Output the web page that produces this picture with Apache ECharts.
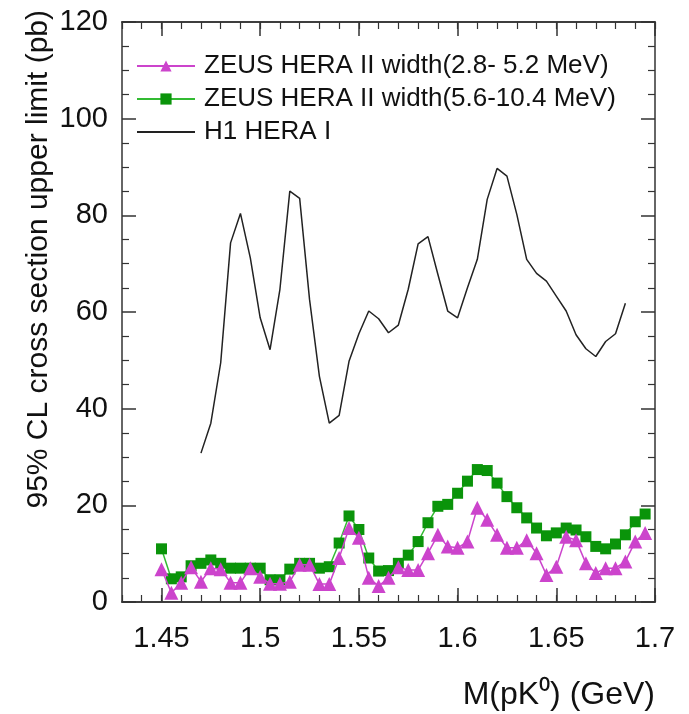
<!DOCTYPE html>
<html>
<head>
<meta charset="utf-8">
<script src="https://cdn.jsdelivr.net/npm/echarts@6/dist/echarts.min.js"></script>
<style>html,body{margin:0;padding:0;background:#fff}#chart{width:689px;height:714px}</style>
</head>
<body>
<div id="chart"></div>
<script>
var zeusMass = [1.45,1.455,1.46,1.465,1.47,1.475,1.48,1.485,1.49,1.495,1.5,1.505,1.51,1.515,1.52,1.525,1.53,1.535,1.54,1.545,1.55,1.555,1.56,1.565,1.57,1.575,1.58,1.585,1.59,1.595,1.6,1.605,1.61,1.615,1.62,1.625,1.63,1.635,1.64,1.645,1.65,1.655,1.66,1.665,1.67,1.675,1.68,1.685,1.69,1.695];
var narrowLimit = [6.8,1.9,4,7.2,4.2,7,6.8,4,4,7,5.2,3.8,3.8,4.2,7.7,7.7,3.7,3.7,9.1,15.3,13.3,5,3.3,5,7.2,6.6,6.6,10.1,13.9,11.5,11.2,12.5,19.5,17,13.9,11.2,11.2,12.8,10.1,5.6,7.3,13.5,12.8,8,6,7,7,8.4,12.5,14.3];
var wideLimit = [11,4.8,5.2,7.5,8,8.7,8,7,7,7,7,4.6,4.6,6.8,8,8,7,7.3,12.2,17.8,15,9.1,6.4,6.5,8,9.7,12.5,16.4,19.8,20.2,22.5,25,27.4,27.2,24.6,21.8,19.5,17.4,15.3,13.7,14.3,15.3,14.9,13.5,11.5,11,12,13.9,16.6,18.2];
var h1Mass = [1.47,1.475,1.48,1.485,1.49,1.495,1.5,1.505,1.51,1.515,1.52,1.525,1.53,1.535,1.54,1.545,1.55,1.555,1.56,1.565,1.57,1.575,1.58,1.585,1.59,1.595,1.6,1.605,1.61,1.615,1.62,1.625,1.63,1.635,1.64,1.645,1.65,1.655,1.66,1.665,1.67,1.675,1.68,1.685];
var h1Limit = [30.8,37,49.5,74.3,80.4,71.2,58.8,52.2,64.7,85,83.5,62.6,46.7,37,38.6,49.8,55.5,60.2,58.6,55.7,57.3,64.7,74.1,75.6,67.8,60.2,58.8,65,70.9,83.3,89.7,88.1,80.2,70.9,68,66.4,63.3,60.2,55.3,52.4,50.8,53.9,55.5,61.8];
var xTickLabels = [1.45,1.5,1.55,1.6,1.65,1.7];
var names = ['ZEUS HERA II width(2.8- 5.2 MeV)', 'ZEUS HERA II width(5.6-10.4 MeV)', 'H1 HERA I'];

function pairs(xs, ys) {
    return xs.map(function (x, i) { return [x, ys[i]]; });
}

var font = 'Liberation Sans, Arial, sans-serif';
var axisLine = { show: true, lineStyle: { color: '#333', width: 1.5 } };
function xAx(pos, major, labels) {
    var a = {
        type: 'value', position: pos, min: 1.43, max: 1.7,
        axisLine: axisLine, splitLine: { show: false },
        axisLabel: { show: false }
    };
    if (major) {
        a.axisTick = { inside: true, length: 14, customValues: xTickLabels, lineStyle: { color: '#333', width: 1.5 } };
        if (labels) {
            a.axisLabel = { show: true, customValues: xTickLabels, fontSize: 29, color: '#111', fontFamily: font, margin: 22 };
            a.name = 'M(pK\u2070) (GeV)';
            a.nameLocation = 'end';
            a.nameGap = 0;
            a.nameTextStyle = { fontSize: 32, color: '#111', fontFamily: font, align: 'right', verticalAlign: 'top', padding: [77, 0, 0, 0] };
        }
    } else {
        a.interval = 0.01;
        a.axisTick = { inside: true, length: 7, lineStyle: { color: '#333', width: 1.2 } };
    }
    return a;
}
function yAx(pos, labels) {
    return {
        type: 'value', position: pos, min: 0, max: 120, interval: 20,
        axisLine: axisLine, splitLine: { show: false },
        axisTick: { inside: true, length: 14, lineStyle: { color: '#333', width: 1.5 } },
        minorTick: { show: true, splitNumber: 4, length: 7, lineStyle: { color: '#333', width: 1.2 } },
        axisLabel: { show: labels, fontSize: 29, color: '#111', fontFamily: font, margin: 14 },
        name: labels ? '95% CL cross section upper limit (pb)' : '',
        nameLocation: 'end', nameRotate: 90, nameGap: 12,
        nameTextStyle: { fontSize: 30, color: '#111', fontFamily: font, align: 'right', verticalAlign: 'bottom', padding: [0, 0, 68, 0] }
    };
}

var myChart = echarts.init(document.getElementById('chart'));
var option = {
    animation: false,
    grid: { left: 122, right: 34, top: 22, bottom: 112 },
    legend: {
        left: 131, top: 48, orient: 'vertical', itemGap: 7, itemWidth: 58, itemHeight: 14,
        textStyle: { fontSize: 26, color: '#111', fontFamily: font, padding: [0, 0, 0, 4] },
        data: [names[0], names[1], { name: names[2], itemStyle: { opacity: 0 } }]
    },
    xAxis: [xAx('bottom', true, true), xAx('bottom', false), xAx('top', true, false), xAx('top', false)],
    yAxis: [yAx('left', true), yAx('right', false)],
    series: [
        {
            name: names[0], type: 'line', data: pairs(zeusMass, narrowLimit), z: 4,
            symbol: 'triangle', symbolSize: 14,
            itemStyle: { color: '#cc44cc' }, lineStyle: { color: '#cc44cc', width: 1.5 }
        },
        {
            name: names[1], type: 'line', data: pairs(zeusMass, wideLimit), z: 3,
            symbol: 'rect', symbolSize: 11,
            itemStyle: { color: '#0a940a' }, lineStyle: { color: '#33bb33', width: 1.5 }
        },
        {
            name: names[2], type: 'line', data: pairs(h1Mass, h1Limit),
            symbol: 'none',
            itemStyle: { color: '#222' }, lineStyle: { color: '#222', width: 1.5 }
        }
    ]
};
myChart.setOption(option);
</script>
</body>
</html>
